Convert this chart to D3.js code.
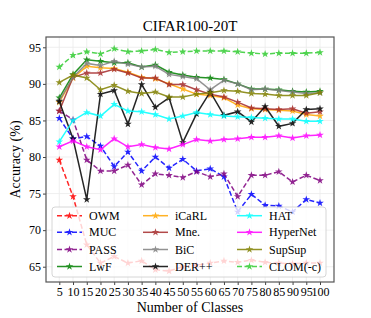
<!DOCTYPE html>
<html>
<head>
<meta charset="utf-8">
<script src="https://cdn.jsdelivr.net/npm/d3@7"></script>
<style>
  body { margin: 0; background: #fff; }
  text { font-family: "Liberation Serif", "Times New Roman", serif; fill: #000; }
</style>
</head>
<body>
<div id="chart"></div>
<script>
// number of classes on the x axis
var classes = [5,10,15,20,25,30,35,40,45,50,55,60,65,70,75,80,85,90,95,100]
var yTicks = [65,70,75,80,85,90,95]

// accuracy (%)
var owm     = [79.6,74.6,68.0,65.5,66.4,65.5,65.8,64.6,64.4,65.0,65.2,65.5,65.8,65.6,65.9,65.6,65.5,65.4,65.5,65.5]
var muc     = [85.3,82.5,82.8,81.5,78.7,80.7,78.1,80.0,78.5,79.7,78.1,78.4,77.3,72.5,74.9,73.4,73.3,72.5,74.2,73.7]
var pass    = [86.3,85.1,79.6,78.1,78.1,78.9,76.2,77.7,77.5,77.2,78.0,77.3,77.7,74.6,77.5,77.5,78.0,76.6,77.5,76.8]
var lwf     = [88.1,91.3,93.3,93.1,92.9,92.9,92.3,92.6,91.6,91.2,90.9,90.8,90.6,90.0,89.3,89.3,89.2,89.0,88.9,89.0]
var icarl   = [87.5,90.8,92.4,92.2,92.1,91.6,90.9,90.7,90.0,89.3,88.6,88.4,88.1,87.1,86.6,86.5,86.4,86.3,85.8,85.6]
var mne     = [86.3,90.9,91.5,91.5,92.0,91.5,90.8,90.8,89.9,89.9,89.2,88.6,88.2,87.5,86.7,86.6,86.5,86.6,86.0,86.2]
var bic     = [87.7,90.9,92.8,92.5,93.1,92.7,92.3,92.4,91.3,91.0,90.7,89.2,90.5,90.0,89.2,89.3,89.1,88.9,88.7,88.8]
var derpp   = [87.6,82.5,74.2,88.6,89.1,84.5,89.9,86.8,88.1,82.0,85.9,88.9,85.7,86.2,84.8,86.9,84.2,84.6,86.5,86.6]
var hat     = [82.1,85.0,86.1,85.6,87.2,86.3,86.2,85.8,85.2,85.6,86.1,85.8,85.6,85.5,85.4,85.3,85.2,85.2,84.9,84.9]
var hypernet= [81.4,82.2,81.4,81.0,82.5,81.4,81.7,81.3,81.1,81.7,82.4,82.2,82.4,82.5,82.7,82.7,82.9,82.6,82.9,83.0]
var supsup  = [90.2,91.2,90.8,89.2,89.8,89.0,88.7,88.9,88.2,88.2,88.6,88.8,89.1,89.0,88.7,88.6,88.4,88.4,88.4,88.8]
var clom    = [92.3,93.9,94.4,94.1,94.8,94.4,94.5,94.7,94.3,94.4,94.5,94.5,94.5,94.4,94.2,94.1,94.2,94.2,94.2,94.3]

var series = [
  {name: "OWM", values: owm, color: "#ff0000", dash: true},
  {name: "MUC", values: muc, color: "#0000ff", dash: true},
  {name: "PASS", values: pass, color: "#800080", dash: true},
  {name: "LwF", values: lwf, color: "#008000", dash: false},
  {name: "iCaRL", values: icarl, color: "#ffa500", dash: false},
  {name: "Mne.", values: mne, color: "#a52a2a", dash: false},
  {name: "BiC", values: bic, color: "#808080", dash: false},
  {name: "DER++", values: derpp, color: "#000000", dash: false},
  {name: "HAT", values: hat, color: "#00ffff", dash: false},
  {name: "HyperNet", values: hypernet, color: "#ff00ff", dash: false},
  {name: "SupSup", values: supsup, color: "#808000", dash: false},
  {name: "CLOM(-c)", values: clom, color: "#32cd32", dash: true}
]

var width = 371
var height = 318
var plot = {left: 46, right: 334, top: 37, bottom: 282}

var svg = d3.select("#chart")
  .append("svg")
  .attr("width", width)
  .attr("height", height)

var x = d3.scaleLinear().domain([0.15, 105.1]).range([plot.left, plot.right])
var y = d3.scaleLinear().domain([62.91, 96.41]).range([plot.bottom, plot.top])

//grid lines
svg.append("g")
  .selectAll("line.gx")
  .data(classes)
  .enter().append("line")
  .attr("x1", d => x(d)).attr("x2", d => x(d))
  .attr("y1", plot.top).attr("y2", plot.bottom)
  .attr("stroke", "#ebebeb").attr("stroke-width", 0.8)

svg.append("g")
  .selectAll("line.gy")
  .data(yTicks)
  .enter().append("line")
  .attr("x1", plot.left).attr("x2", plot.right)
  .attr("y1", d => y(d)).attr("y2", d => y(d))
  .attr("stroke", "#ebebeb").attr("stroke-width", 0.8)

//axes
var xAxis = d3.axisBottom(x).tickValues(classes).tickSize(3).tickPadding(2)
var yAxis = d3.axisLeft(y).tickValues(yTicks).tickSize(3).tickPadding(2)

var gx = svg.append("g")
  .attr("transform", "translate(0," + plot.bottom + ")")
  .call(xAxis)
gx.select(".domain").remove()
gx.selectAll("text").style("font-size", "12px").attr("font-family", null)
gx.selectAll("line").attr("stroke", "#444")

var gy = svg.append("g")
  .attr("transform", "translate(" + plot.left + ",0)")
  .call(yAxis)
gy.select(".domain").remove()
gy.selectAll("text").style("font-size", "12px").attr("font-family", null)
gy.selectAll("line").attr("stroke", "#444")

//lines and star markers
var line = d3.line()
  .x((d, i) => x(classes[i]))
  .y(d => y(d))

var star = d3.symbol().type(d3.symbolStar).size(18)

series.forEach(function (s) {
  var g = svg.append("g").style("opacity", 0.85)
  g.append("path")
    .datum(s.values)
    .attr("d", line)
    .attr("fill", "none")
    .attr("stroke", s.color)
    .attr("stroke-width", 1.5)
    .attr("stroke-dasharray", s.dash ? "5,2.5" : null)
  g.selectAll("path.pt")
    .data(s.values)
    .enter().append("path")
    .attr("class", "pt")
    .attr("d", star)
    .attr("transform", (d, i) => "translate(" + x(classes[i]) + "," + y(d) + ")")
    .attr("fill", s.color)
})

//frame
svg.append("rect")
  .attr("x", plot.left).attr("y", plot.top)
  .attr("width", plot.right - plot.left)
  .attr("height", plot.bottom - plot.top)
  .attr("fill", "none")
  .attr("stroke", "#555")
  .attr("stroke-width", 1.2)

//legend
var legend = svg.append("g")
legend.append("rect")
  .attr("x", 52).attr("y", 207)
  .attr("width", 274).attr("height", 70)
  .attr("rx", 3)
  .attr("fill", "#fff").attr("fill-opacity", 0.8)
  .attr("stroke", "#ccc").attr("stroke-width", 0.8)

var colX = [57, 143, 237]
var rowY = [215.7, 232.3, 249.5, 266.5]

series.forEach(function (s, i) {
  var cx = colX[Math.floor(i / 4)]
  var cy = rowY[i % 4]
  var item = legend.append("g").style("opacity", 0.85)
  item.append("line")
    .attr("x1", cx).attr("x2", cx + 25)
    .attr("y1", cy).attr("y2", cy)
    .attr("stroke", s.color)
    .attr("stroke-width", 1.5)
    .attr("stroke-dasharray", s.dash ? "5,2.5" : null)
  item.append("path")
    .attr("d", star)
    .attr("transform", "translate(" + (cx + 12.5) + "," + cy + ")")
    .attr("fill", s.color)
  legend.append("text")
    .text(s.name)
    .attr("x", cx + 32)
    .attr("y", cy + 4)
    .style("font-size", "12px")
})

//title and axis labels
svg.append("text")
  .text("CIFAR100-20T")
  .attr("x", (plot.left + plot.right) / 2)
  .attr("y", 31)
  .attr("text-anchor", "middle")
  .style("font-size", "15px")

svg.append("text")
  .text("Number of Classes")
  .attr("x", (plot.left + plot.right) / 2)
  .attr("y", 312)
  .attr("text-anchor", "middle")
  .style("font-size", "14px")

svg.append("text")
  .text("Accuracy (%)")
  .attr("transform", "translate(20," + ((plot.top + plot.bottom) / 2) + ") rotate(-90)")
  .attr("text-anchor", "middle")
  .style("font-size", "14px")
</script>
</body>
</html>
